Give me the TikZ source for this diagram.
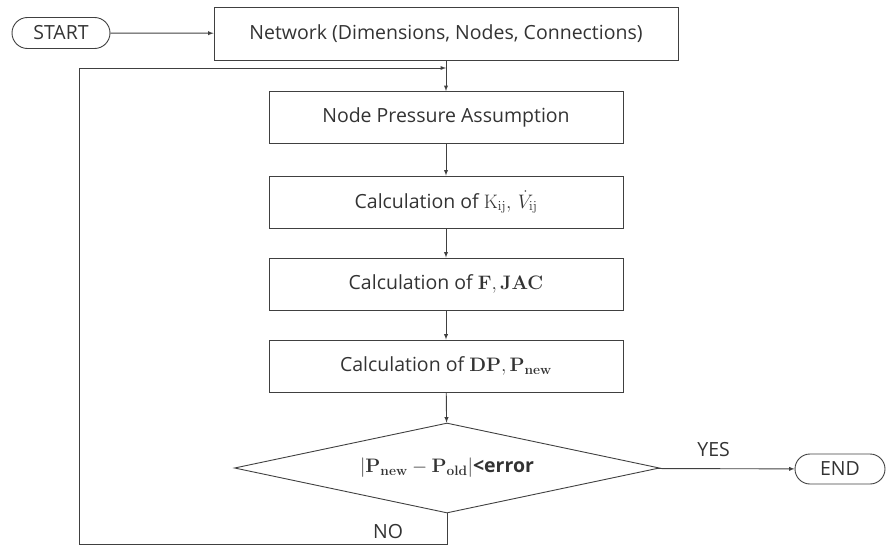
\documentclass[tikz,border=0pt]{standalone}
\usepackage{fix-cm}
\usepackage{amsmath,amssymb}
\usepackage[no-math]{fontspec}
\setmainfont{Open Sans}
\usepackage{tikz}
\usetikzlibrary{positioning,shapes,arrows}

\begin{document}
\begin{tikzpicture}[x=1pt,y=-1pt,
		font=\fontsize{19.5}{23}\selectfont,
		line/.style={draw=black!75,line width=0.9pt},
		flow/.style={line,->,>=latex},
		terminal/.style={rounded rectangle,line,inner sep=0pt,text=black!80},
		procbox/.style={rectangle,line,inner sep=0pt,minimum width=354,minimum height=52,text=black!80},
		decision/.style={diamond,line,aspect=4.72,inner sep=0pt,minimum width=425,minimum height=90,text=black!80},
		lbl/.style={text=black!80,inner sep=0pt}]
		\useasboundingbox (0,0) rectangle (886,546);

		% Start and input
		\node[terminal,minimum width=98,minimum height=31] (start) at (61,33) {START};
		\node[procbox,minimum width=464,minimum height=53] (net) at (446,33.5) {Network (Dimensions, Nodes, Connections)};

		% Iteration steps
		\node[procbox] (press) at (446,117.5) {Node Pressure Assumption};
		\node[procbox] (kij) at (446,202) {Calculation of $\mathrm{K}_{\mathrm{ij}},\,\dot{V}_{\mathrm{ij}}$};
		\node[procbox] (fjac) at (446,284) {Calculation of $\mathbf{F}, \mathbf{JAC}$};
		\node[procbox] (dp) at (446,366) {Calculation of $\mathbf{DP}, \mathbf{P}_{\mathbf{new}}$};

		% Convergence check
		\node[decision] (check) at (447,468) {$|\mathbf{P}_{\mathbf{new}} - \mathbf{P}_{\mathbf{old}}|$\textbf{<error}};
		\node[terminal,minimum width=90,minimum height=30] (end) at (840,469) {END};

		% Connections
		\draw[flow] (start) -- (net);
		\draw[flow] (net) -- (press);
		\draw[flow] (press) -- (kij);
		\draw[flow] (kij) -- (fjac);
		\draw[flow] (fjac) -- (dp);
		\draw[flow] (dp) -- (check);
		\draw[flow] (check) -- node[lbl,pos=0.41,above=12pt] {YES} (end);

		% Loop back
		\coordinate (back) at (net.south |- 0,68);
		\draw[flow] (check.south) -- (447,544) -- (79,544) -- (79,68) -- (back);
		\node[lbl] (no) at (388,532) {NO};
	\end{tikzpicture}
\end{document}
